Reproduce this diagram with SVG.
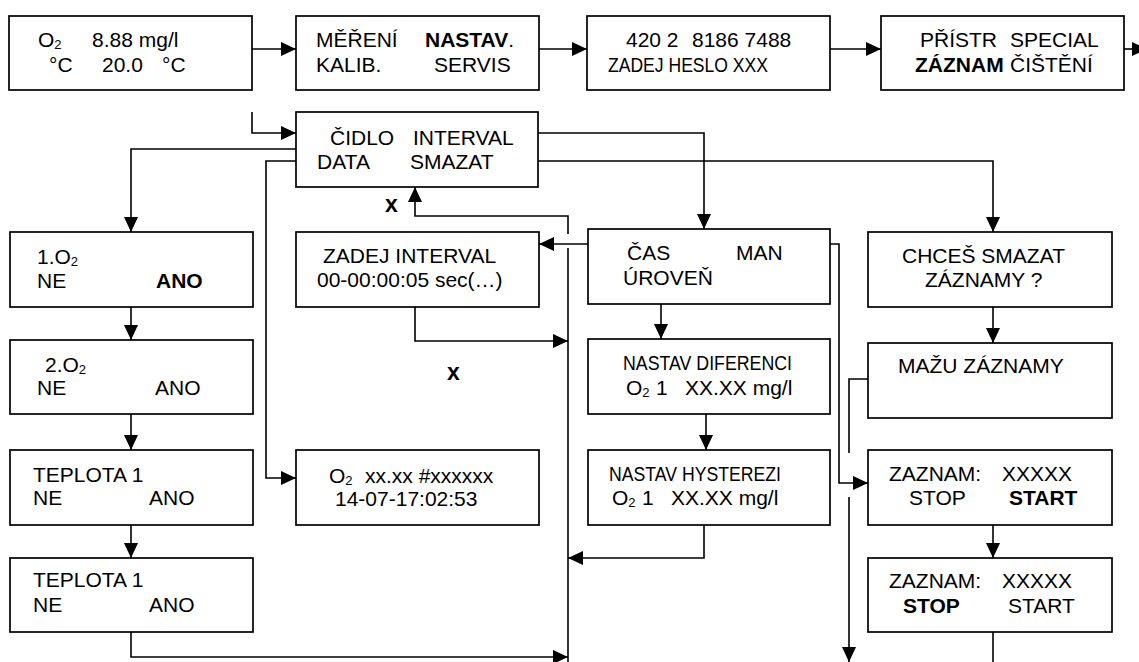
<svg xmlns="http://www.w3.org/2000/svg" width="1139" height="662" viewBox="0 0 1139 662">
<style>
.box{fill:#fff;stroke:#000;stroke-width:1.7}
.ln{fill:none;stroke:#000;stroke-width:1.6}
.ar{marker-end:url(#ah)}
text{font-family:"Liberation Sans",Arial,sans-serif;font-size:21px;fill:#000}
.b{font-weight:bold}
.sub{font-size:13px}
.x{font-weight:bold;font-size:23px}
</style>
<defs>
<marker id="ah" markerUnits="userSpaceOnUse" markerWidth="15" markerHeight="14" refX="15" refY="7" orient="auto">
<path d="M0,0 L15,7 L0,14 z" fill="#000"/>
</marker>
</defs>
<rect width="1139" height="662" fill="#fff"/>

<g id="connectors">
<line class="ln ar" x1="252" y1="49" x2="296" y2="49"/>
<line class="ln ar" x1="539" y1="49" x2="587" y2="49"/>
<line class="ln ar" x1="830" y1="49" x2="881" y2="49"/>
<line class="ln ar" x1="1124" y1="49" x2="1147" y2="49"/>
<polyline class="ln ar" points="252,112 252,133 296,133"/>
<polyline class="ln ar" points="296,149 131,149 131,232"/>
<polyline class="ln ar" points="296,161 266,161 266,478 296,478"/>
<polyline class="ln ar" points="538,133 704,133 704,229"/>
<polyline class="ln ar" points="538,161 993,161 993,232"/>
<line class="ln ar" x1="131" y1="307" x2="131" y2="340"/>
<line class="ln ar" x1="131" y1="414" x2="131" y2="450"/>
<line class="ln ar" x1="131" y1="525" x2="131" y2="558"/>
<polyline class="ln ar" points="131,632 131,657 568,657"/>
<polyline class="ln ar" points="568,234 568,216 415,216 415,187"/>
<line class="ln" x1="568" y1="248" x2="568" y2="662"/>
<line class="ln ar" x1="588" y1="244" x2="539" y2="244"/>
<polyline class="ln ar" points="415,307 415,341 568,341"/>
<line class="ln ar" x1="661" y1="304" x2="661" y2="339"/>
<line class="ln ar" x1="706" y1="414" x2="706" y2="450"/>
<polyline class="ln ar" points="704,525 704,558 568,558"/>
<polyline class="ln ar" points="830,244 839,244 839,483 868,483"/>
<line class="ln ar" x1="993" y1="307" x2="993" y2="343"/>
<polyline class="ln" points="868,379 849,379 849,453"/>
<line class="ln ar" x1="849" y1="497" x2="849" y2="662"/>
<line class="ln ar" x1="993" y1="525" x2="993" y2="558"/>
<line class="ln" x1="993" y1="632" x2="993" y2="662"/>
</g>

<g id="n_measure">
<rect class="box" x="9" y="16" width="243" height="74"/>
<text x="38" y="47">O<tspan class="sub" dy="2">2</tspan><tspan x="92" dy="-2">8.88 mg/l</tspan></text>
<text x="49" y="72">°C<tspan x="102">20.0</tspan><tspan x="162">°C</tspan></text>
</g>
<g id="n_menu">
<rect class="box" x="296" y="16" width="243" height="74"/>
<text x="316" y="47">MĚŘENÍ<tspan x="425" class="b">NASTAV</tspan>.</text>
<text x="316" y="72">KALIB.<tspan x="434">SERVIS</tspan></text>
</g>
<g id="n_password">
<rect class="box" x="587" y="16" width="243" height="74"/>
<text x="626" y="47">420 2<tspan x="692">8186 7488</tspan></text>
<text x="608" y="72" textLength="160" lengthAdjust="spacingAndGlyphs">ZADEJ HESLO XXX</text>
</g>
<g id="n_service">
<rect class="box" x="881" y="16" width="243" height="74"/>
<text x="920" y="47">PŘÍSTR<tspan x="1010">SPECIAL</tspan></text>
<text x="915" y="72"><tspan class="b">ZÁZNAM</tspan><tspan x="1010">ČIŠTĚNÍ</tspan></text>
</g>
<g id="n_record">
<rect class="box" x="296" y="112" width="242" height="75"/>
<text x="330" y="145">ČIDLO<tspan x="413">INTERVAL</tspan></text>
<text x="317" y="169">DATA<tspan x="410">SMAZAT</tspan></text>
</g>
<g id="n_o2_1">
<rect class="box" x="10" y="232" width="243" height="75"/>
<text x="37" y="264">1.O<tspan class="sub" dy="2">2</tspan></text>
<text x="37" y="288">NE<tspan x="156" class="b">ANO</tspan></text>
</g>
<g id="n_o2_2">
<rect class="box" x="10" y="340" width="243" height="74"/>
<text x="45" y="372">2.O<tspan class="sub" dy="2">2</tspan></text>
<text x="37" y="395">NE<tspan x="155">ANO</tspan></text>
</g>
<g id="n_temp_1">
<rect class="box" x="10" y="450" width="243" height="75"/>
<text x="33" y="482">TEPLOTA 1</text>
<text x="33" y="505">NE<tspan x="149">ANO</tspan></text>
</g>
<g id="n_temp_2">
<rect class="box" x="10" y="558" width="243" height="74"/>
<text x="33" y="587">TEPLOTA 1</text>
<text x="33" y="612">NE<tspan x="149">ANO</tspan></text>
</g>
<g id="n_interval">
<rect class="box" x="296" y="232" width="243" height="75"/>
<text x="323" y="263">ZADEJ INTERVAL</text>
<text x="317" y="287">00-00:00:05 sec(…)</text>
</g>
<g id="n_data">
<rect class="box" x="296" y="450" width="243" height="75"/>
<text x="329" y="483">O<tspan class="sub" dy="2">2</tspan><tspan x="365" dy="-2">xx.xx #xxxxxx</tspan></text>
<text x="335" y="506">14-07-17:02:53</text>
</g>
<g id="n_time">
<rect class="box" x="588" y="229" width="242" height="75"/>
<text x="627" y="260">ČAS<tspan x="736">MAN</tspan></text>
<text x="623" y="285">ÚROVEŇ</text>
</g>
<g id="n_diff">
<rect class="box" x="588" y="339" width="242" height="75"/>
<text x="623" y="370" textLength="169" lengthAdjust="spacingAndGlyphs">NASTAV DIFERENCI</text>
<text x="626" y="395">O<tspan class="sub" dy="2">2</tspan><tspan x="656" dy="-2">1</tspan><tspan x="685">XX.XX mg/l</tspan></text>
</g>
<g id="n_hyst">
<rect class="box" x="588" y="450" width="242" height="75"/>
<text x="609" y="481" textLength="172" lengthAdjust="spacingAndGlyphs">NASTAV HYSTEREZI</text>
<text x="612" y="505">O<tspan class="sub" dy="2">2</tspan><tspan x="642" dy="-2">1</tspan><tspan x="671">XX.XX mg/l</tspan></text>
</g>
<g id="n_delete_q">
<rect class="box" x="868" y="232" width="244" height="75"/>
<text x="902" y="263">CHCEŠ SMAZAT</text>
<text x="925" y="287">ZÁZNAMY ?</text>
</g>
<g id="n_deleting">
<rect class="box" x="868" y="343" width="244" height="75"/>
<text x="898" y="373">MAŽU ZÁZNAMY</text>
</g>
<g id="n_start">
<rect class="box" x="868" y="450" width="244" height="75"/>
<text x="889" y="481">ZAZNAM:<tspan x="1002">XXXXX</tspan></text>
<text x="909" y="505">STOP<tspan x="1009" class="b">START</tspan></text>
</g>
<g id="n_stop">
<rect class="box" x="868" y="558" width="244" height="74"/>
<text x="889" y="588">ZAZNAM:<tspan x="1002">XXXXX</tspan></text>
<text x="903" y="613"><tspan class="b">STOP</tspan><tspan x="1008">START</tspan></text>
</g>
<g id="labels">
<text class="x" x="385" y="212">x</text>
<text class="x" x="447" y="380">x</text>
</g>
</svg>
